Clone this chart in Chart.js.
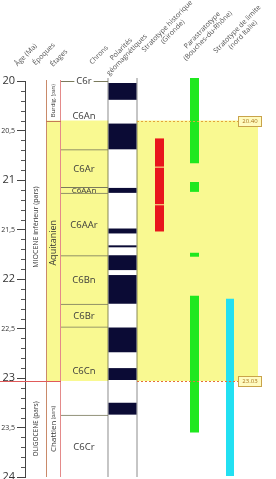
<!DOCTYPE html>
<html>
<head>
<meta charset="utf-8">
<script src="https://cdn.jsdelivr.net/npm/chart.js"></script>
<style>
  body { margin: 0; background: #fff; }
  #wrap { width: 276px; height: 479px; }
</style>
</head>
<body>
<div id="wrap"><canvas id="myChart"></canvas></div>
<script>
//Age axis (Ma)
const ageTicks = [20, 20.5, 21, 21.5, 22, 22.5, 23, 23.5, 24];
const ageLabels = ["20", "20,5", "21", "21,5", "22", "22,5", "23", "23,5", "24"];

//Chrons
const chronNames = ["C6An", "C6Ar", "C6AAn", "C6AAr", "C6Bn", "C6Br", "C6Cn", "C6Cr"];
const chronTop = [20.0, 20.69, 21.07, 21.13, 21.76, 22.25, 22.48, 23.37];
const chronBase = [20.69, 21.07, 21.13, 21.76, 22.25, 22.48, 23.37, 24.0];

//Normal polarity intervals (black)
const normalTop = [20.02, 20.43, 21.08, 21.49, 21.66, 21.76, 21.96, 22.49, 22.9, 23.25];
const normalBase = [20.19, 20.69, 21.13, 21.54, 21.68, 21.91, 22.25, 22.74, 23.02, 23.37];

//Stages / epochs
const etages = ["Burdig.", "Aquitanien", "Chattien"];
const etageTop = [20.0, 20.4, 23.03];
const etageBase = [20.4, 23.03, 24.0];
const epoques = ["MIOCENE inférieur", "OLIGOCENE"];
const epoqueTop = [20.0, 23.03];
const epoqueBase = [23.03, 24.0];

//Stratotypes
const girondeTop = [20.58, 20.875, 21.255];
const girondeBase = [20.865, 21.245, 21.52];
const bdrTop = [19.97, 21.02, 21.735, 22.17];
const bdrBase = [20.83, 21.12, 21.775, 23.55];
const italieTop = [22.2];
const italieBase = [23.99];

//Column headers
const headers = [
  ["Âge (Ma)"],
  ["Époques"],
  ["Étages"],
  ["Chrons"],
  ["Polarités", "géomagnétiques"],
  ["Stratotype historique", "(Gironde)"],
  ["Parastratotype", "(Bouches-du-Rhône)"],
  ["Stratotype de limite", "(nord Italie)"],
];

//layout (x in pixels, the x scale is 1:1)
const col = { yellow: 152, polar: 122.5, chron: 84, gironde: 159.5, bdr: 194.5, italie: 230 };
const headerPos = [[26, 55], [44, 54], [59, 58], [99, 55], [124, 52], [170, 29], [205, 33], [240, 32]];
const FONT = "'Open Sans', 'DejaVu Sans', sans-serif";

const ranges = (x, tops, bases) => tops.map((t, i) => ({ x: x, y: [t, bases[i]] }));

const base = { grouped: false, borderSkipped: false, inflateAmount: 0, borderWidth: 0 };

//drawing everything that is not a bar
const decor = {
  id: "decor",
  afterDraw(chart) {
    const ctx = chart.ctx;
    const ys = chart.scales.y;
    const py = (v) => ys.getPixelForValue(v);
    const line = (x1, y1, x2, y2, color) => {
      ctx.strokeStyle = color;
      ctx.beginPath();
      ctx.moveTo(x1, y1);
      ctx.lineTo(x2, y2);
      ctx.stroke();
    };
    ctx.save();
    ctx.lineWidth = 1;

    //minor ticks
    for (let i = 1; i < 40; i++) {
      if (i % 5 === 0) continue;
      const yy = Math.round(py(20 + i / 10)) + 0.5;
      line(21, yy, 25, yy, "#555");
    }

    //stage column rules
    line(46.5, py(20) - 1, 46.5, py(24), "#c98a6a");
    line(60.5, py(20) - 1, 60.5, py(24), "#e48a8a");
    let yb = Math.round(py(etageBase[0])) + 0.5;
    line(46, yb, 61, yb, "#c47a55");
    yb = Math.round(py(epoqueBase[0])) + 0.5;
    line(0, yb, 61, yb, "#e05a5a");

    //dashed limits + tags
    const tag = (v, color) => {
      const yy = Math.round(py(v)) + 0.5;
      ctx.setLineDash([2, 2]);
      line(137, yy, 238, yy, color);
      ctx.setLineDash([]);
      ctx.fillStyle = "#fffbc0";
      ctx.fillRect(238.5, yy - 5, 23, 10);
      ctx.strokeStyle = "#c9a34a";
      ctx.strokeRect(238.5, yy - 5, 23, 10);
      ctx.fillStyle = "#a8741c";
      ctx.font = "6px " + FONT;
      ctx.textAlign = "center";
      ctx.textBaseline = "middle";
      ctx.fillText(v.toFixed(2), 250, yy);
    };
    tag(etageTop[1], "#e3a43a");
    tag(etageBase[1], "#e2703a");

    //chron names
    ctx.textAlign = "center";
    ctx.textBaseline = "middle";
    ctx.fillStyle = "#3a3a3a";
    chronNames.forEach((name, i) => {
      const h = py(chronBase[i]) - py(chronTop[i]);
      ctx.font = (h < 10 ? "8px " : "9.5px ") + FONT;
      ctx.fillText(name, col.chron, (py(chronTop[i]) + py(chronBase[i])) / 2 + 1);
    });
    //C6r on the top line
    ctx.font = "9.5px " + FONT;
    const w = ctx.measureText("C6r").width;
    ctx.fillStyle = "#fff";
    ctx.fillRect(col.chron - w / 2 - 2, py(20) - 5, w + 4, 9);
    ctx.fillStyle = "#3a3a3a";
    ctx.fillText("C6r", col.chron, py(20));

    //vertical texts
    const vText = (x, y, parts) => {
      ctx.save();
      ctx.translate(x, y);
      ctx.rotate(-Math.PI / 2);
      ctx.textBaseline = "middle";
      ctx.textAlign = "left";
      let total = 0;
      parts.forEach((p) => { ctx.font = p[1] + "px " + FONT; total += ctx.measureText(p[0]).width; });
      let cx = -total / 2;
      parts.forEach((p) => {
        ctx.font = p[1] + "px " + FONT;
        ctx.fillText(p[0], cx, 0);
        cx += ctx.measureText(p[0]).width;
      });
      ctx.restore();
    };
    ctx.fillStyle = "#333";
    vText(36, (py(epoqueTop[0]) + py(epoqueBase[0])) / 2 - 4, [[epoques[0], 7], [" (pars)", 7]]);
    vText(36, (py(epoqueTop[1]) + py(epoqueBase[1])) / 2, [[epoques[1], 6.5], [" (pars)", 6.5]]);
    vText(53.5, (py(etageTop[0]) + py(etageBase[0])) / 2, [[etages[0], 6], [" (pars)", 4.5]]);
    vText(53.5, (py(etageTop[1]) + py(etageBase[1])) / 2 - 8, [[etages[1], 9]]);
    vText(53.5, (py(etageTop[2]) + py(etageBase[2])) / 2, [[etages[2], 8], [" (pars)", 5]]);

    //headers, rotated
    ctx.fillStyle = "#555";
    ctx.font = "7px " + FONT;
    ctx.textAlign = "center";
    ctx.textBaseline = "middle";
    headers.forEach((lines, i) => {
      ctx.save();
      ctx.translate(headerPos[i][0], headerPos[i][1]);
      ctx.rotate(-0.8);
      const off = (lines.length - 1) * 4;
      lines.forEach((t, j) => ctx.fillText(t, 0, j * 8 - off));
      ctx.restore();
    });
    ctx.restore();
  },
};

var ctx = document.getElementById("myChart").getContext("2d");
var chart = new Chart(ctx, {
  type: "bar",
  data: {
    datasets: [
      {
        ...base,
        label: "Aquitanien",
        data: [{ x: col.yellow, y: [etageTop[1], etageBase[1]] }],
        backgroundColor: "#f9f991",
        barThickness: 212,
        order: 10,
      },
      {
        ...base,
        label: "polarity column",
        data: [{ x: col.polar, y: [19.97, 24] }],
        backgroundColor: "#fff",
        borderColor: "#1a1a1a",
        borderWidth: { left: 1, right: 1, top: 0, bottom: 0 },
        barThickness: 30,
        clip: false,
        order: 9,
      },
      {
        ...base,
        label: "Normal",
        data: ranges(col.polar, normalTop, normalBase),
        backgroundColor: "#0b0b35",
        barThickness: 28,
        order: 8,
      },
      {
        ...base,
        label: "Chrons",
        data: ranges(col.chron, chronTop, chronBase),
        backgroundColor: "rgba(0,0,0,0)",
        borderColor: "#7a7a5c",
        borderWidth: { top: 1, bottom: 0, left: 0, right: 0 },
        barThickness: 48,
        order: 7,
      },
      {
        ...base,
        label: "Gironde",
        data: ranges(col.gironde, girondeTop, girondeBase),
        backgroundColor: "#e8161c",
        barThickness: 9,
        order: 6,
      },
      {
        ...base,
        label: "Bouches-du-Rhône",
        data: ranges(col.bdr, bdrTop, bdrBase),
        backgroundColor: "#1fe81f",
        barThickness: 9,
        clip: false,
        order: 6,
      },
      {
        ...base,
        label: "nord Italie",
        data: ranges(col.italie, italieTop, italieBase),
        backgroundColor: "#22e0f2",
        barThickness: 8,
        order: 6,
      },
    ],
  },
  options: {
    responsive: true,
    maintainAspectRatio: false,
    animation: false,
    events: [],
    layout: { padding: { top: 81, bottom: 2, left: 0, right: 0 } },
    plugins: { legend: { display: false }, tooltip: { enabled: false } },
    scales: {
      x: { type: "linear", display: false, min: 25, max: 276, offset: false },
      y: {
        type: "linear",
        reverse: true,
        min: 20,
        max: 24,
        afterFit(s) {
          s.width = 25;
          s.paddingTop = 0;
          s.paddingBottom = 0;
        },
        afterBuildTicks(s) {
          s.ticks = ageTicks.map((v) => ({ value: v }));
        },
        ticks: {
          autoSkip: false,
          padding: 2,
          color: "#333",
          callback: (v, i) => ageLabels[i],
          font: (c) => ({ size: c.tick && Number.isInteger(c.tick.value) ? 11 : 7, family: FONT }),
        },
        grid: { drawOnChartArea: false, tickLength: 8, tickColor: "#444" },
        border: { color: "#444", width: 1 },
      },
    },
  },
  plugins: [decor],
});
</script>
</body>
</html>
